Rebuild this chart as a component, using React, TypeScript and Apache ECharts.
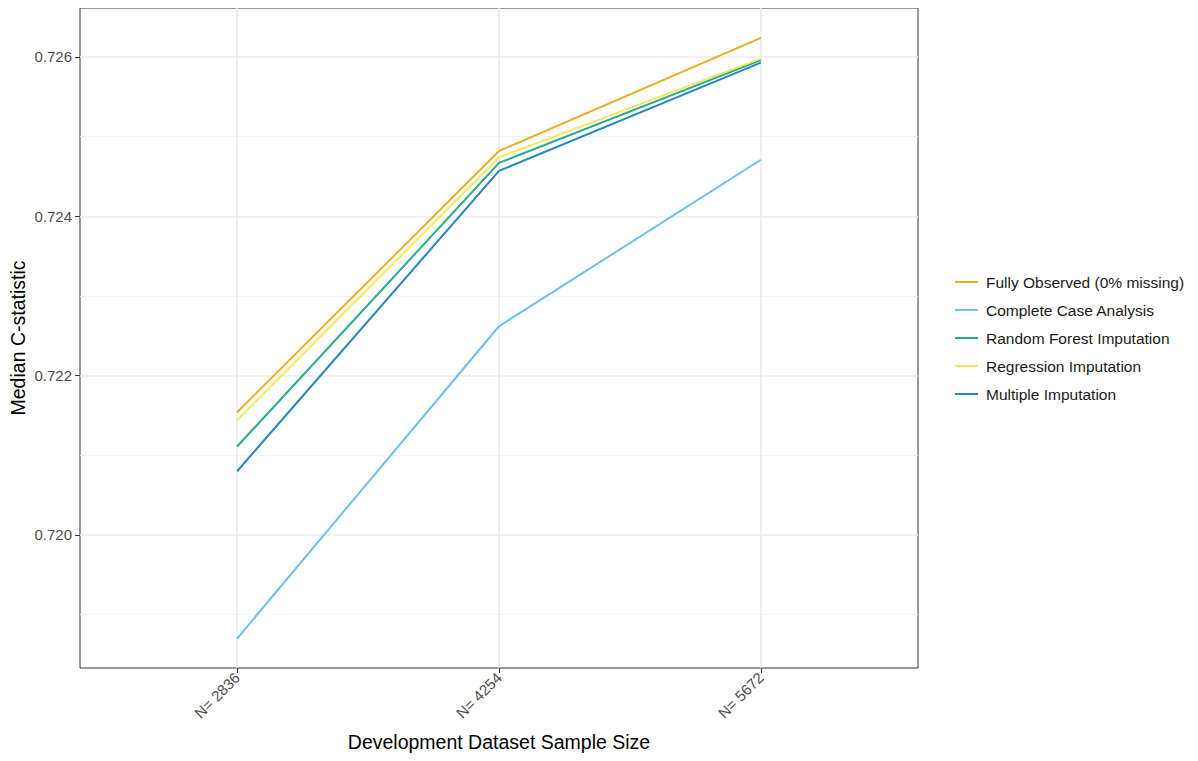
import React, { useEffect, useRef } from "react";
import * as echarts from "echarts";

const categories = ["N= 2836", "N= 4254", "N= 5672"];
const seriesNames = [
  "Fully Observed (0% missing)",
  "Complete Case Analysis",
  "Random Forest Imputation",
  "Regression Imputation",
  "Multiple Imputation",
];
const fullyObserved = [0.72154, 0.72482, 0.72624];
const completeCase = [0.7187, 0.72262, 0.72471];
const randomForest = [0.72111, 0.72467, 0.72596];
const regression = [0.72144, 0.72474, 0.72598];
const multiple = [0.7208, 0.72457, 0.72593];
const colors = ["#E69F00", "#56B4E9", "#009E73", "#F0E442", "#0072B2"];
const yMajorTicks = [0.72, 0.722, 0.724, 0.726];
const yMinorTicks = [0.719, 0.721, 0.723, 0.725];

const FONT = "'Liberation Sans', Arial, Helvetica, sans-serif";

export default function App() {
  const ref = useRef<HTMLDivElement>(null);
  useEffect(() => {
    if (!ref.current) return;
    const chart = echarts.init(ref.current, null, { renderer: "svg" });
    const allData = [fullyObserved, completeCase, randomForest, regression, multiple];
    const xPositions = categories.map((_, i) => i + 1);
    const yMin = 0.71833;
    const yMax = 0.726615;
    chart.setOption({
      animation: false,
      backgroundColor: "#ffffff",
      textStyle: { fontFamily: FONT },
      grid: {
        left: 80,
        right: 280,
        top: 8,
        bottom: 93,
        outerBoundsMode: "none",
        containLabel: false,
        show: true,
        borderColor: "#333333",
        borderWidth: 1,
        backgroundColor: "transparent",
      },
      legend: {
        orient: "vertical",
        left: 950,
        top: 269,
        icon: "rect",
        itemWidth: 23,
        itemHeight: 2,
        itemGap: 12,
        textStyle: {
          fontFamily: FONT,
          fontSize: 15.5,
          lineHeight: 16,
          color: "#1a1a1a",
          padding: [0, 0, 0, 3],
        },
        data: seriesNames,
      },
      xAxis: [
        {
          type: "value",
          min: 0.4,
          max: 3.6,
          name: "Development Dataset Sample Size",
          nameLocation: "middle",
          nameGap: 64,
          nameMoveOverlap: false,
          nameTextStyle: { fontFamily: FONT, fontSize: 19.5, color: "#000000" },
          axisLine: { show: false },
          axisTick: {
            show: true,
            customValues: xPositions,
            length: 5,
            lineStyle: { color: "#333333", width: 1 },
          },
          axisLabel: {
            customValues: xPositions,
            rotate: 45,
            margin: 7,
            fontFamily: FONT,
            fontSize: 15,
            color: "#4d4d4d",
            formatter: (v: number) => categories[Math.round(v) - 1] ?? "",
          },
          splitLine: { show: true, lineStyle: { color: "#ebebeb", width: 1.6 } },
        },
      ],
      yAxis: [
        {
          type: "value",
          min: yMin,
          max: yMax,
          name: "Median C-statistic",
          nameLocation: "middle",
          nameGap: 52,
          nameMoveOverlap: false,
          nameRotate: 90,
          nameTextStyle: { fontFamily: FONT, fontSize: 19.5, color: "#000000" },
          axisLine: { show: false },
          axisTick: {
            show: true,
            customValues: yMajorTicks,
            length: 5,
            lineStyle: { color: "#333333", width: 1 },
          },
          axisLabel: {
            customValues: yMajorTicks,
            margin: 8,
            fontFamily: FONT,
            fontSize: 15,
            color: "#4d4d4d",
            formatter: (v: number) => v.toFixed(3),
          },
          splitLine: { show: true, lineStyle: { color: "#ebebeb", width: 1.6 } },
        },
        {
          type: "value",
          min: yMin,
          max: yMax,
          position: "left",
          axisLine: { show: false },
          axisTick: { show: false, customValues: yMinorTicks },
          axisLabel: { show: false, customValues: yMinorTicks },
          splitLine: { show: true, lineStyle: { color: "#f2f2f2", width: 1 } },
        },
      ],
      series: allData.map((vals, i) => ({
        name: seriesNames[i],
        type: "line",
        yAxisIndex: 0,
        symbol: "none",
        showSymbol: false,
        z: 5,
        lineStyle: { color: colors[i], width: 2, opacity: 0.85 },
        itemStyle: { color: colors[i], opacity: 0.85 },
        data: vals.map((v, j) => [xPositions[j], v]),
      })),
    });
    return () => chart.dispose();
  }, []);
  return <div ref={ref} style={{ width: 1198, height: 761, margin: -8 }} />;
}
